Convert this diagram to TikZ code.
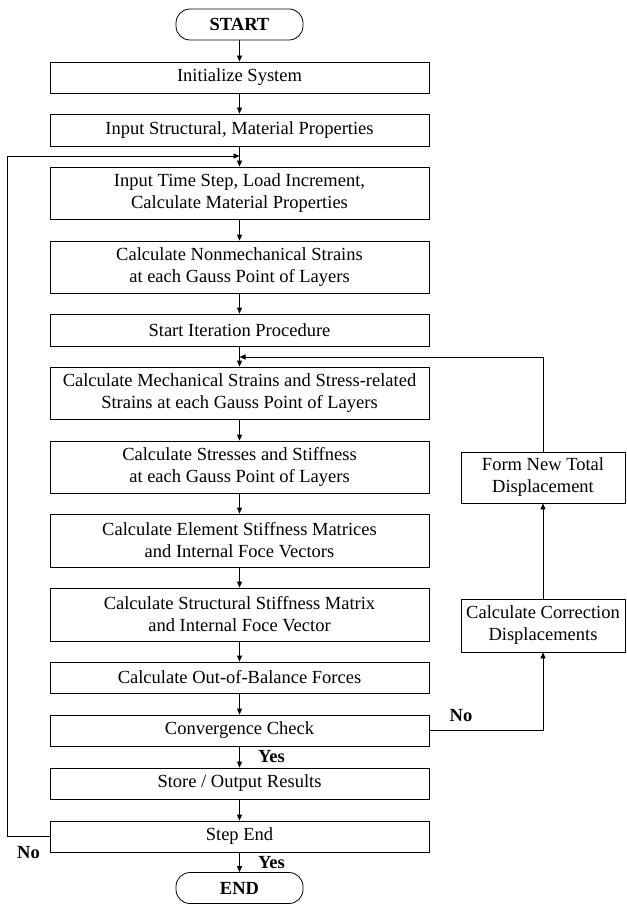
\documentclass[tikz,border=0pt]{standalone}
\usepackage{fontspec}
\setmainfont{Liberation Serif}
\usetikzlibrary{arrows.meta}
\begin{document}
\begin{tikzpicture}[x=1pt,y=-1pt,
  box/.style={draw, line width=0.8pt, minimum width=379pt, align=center, inner sep=0pt, font=\fontsize{18.5}{22}\selectfont},
  sbox/.style={draw, line width=0.8pt, minimum width=164pt, align=center, inner sep=0pt, font=\fontsize{18.5}{22}\selectfont},
  term/.style={draw, line width=0.8pt, rounded corners=14pt, minimum width=127pt, minimum height=31pt, inner sep=0pt, font=\fontsize{18.5}{22}\selectfont\bfseries},
  lbl/.style={inner sep=0pt, font=\fontsize{18.5}{22}\selectfont\bfseries},
  arr/.style={-{Triangle[length=6pt,width=5pt]}, line width=0.8pt}]
\useasboundingbox (0,0) rectangle (626,904);
\node[term] (start) at (239.5,24.5) {START};
\node[box, minimum height=31pt] (init) at (239.5,77.5) {Initialize System};
\node[box, minimum height=32pt] (struct) at (239.5,130) {Input Structural, Material Properties};
\node[box, minimum height=52pt] (time) at (239.5,193) {Input Time Step, Load Increment,\\Calculate Material Properties};
\node[box, minimum height=52pt] (nonmech) at (239.5,267) {Calculate Nonmechanical Strains\\at each Gauss Point of Layers};
\node[box, minimum height=32pt] (iter) at (239.5,330) {Start Iteration Procedure};
\node[box, minimum height=52pt] (mech) at (239.5,393) {Calculate Mechanical Strains and Stress-related\\Strains at each Gauss Point of Layers};
\node[box, minimum height=52pt] (stress) at (239.5,467) {Calculate Stresses and Stiffness\\at each Gauss Point of Layers};
\node[box, minimum height=53pt] (elem) at (239.5,540.5) {Calculate Element Stiffness Matrices\\and Internal Foce Vectors};
\node[box, minimum height=53pt] (structk) at (239.5,614.5) {Calculate Structural Stiffness Matrix\\and Internal Foce Vector};
\node[box, minimum height=31pt] (oob) at (239.5,677.5) {Calculate Out-of-Balance Forces};
\node[box, minimum height=31pt] (conv) at (239.5,730.5) {Convergence Check};
\node[box, minimum height=31pt] (store) at (239.5,783.5) {Store / Output Results};
\node[box, minimum height=31pt] (stepend) at (239.5,836.5) {Step End};
\node[term] (end) at (239.5,888) {END};
\node[sbox, minimum height=51pt] (formnew) at (543,477.5) {Form New Total\\Displacement};
\node[sbox, minimum height=53pt] (corr) at (543,625.5) {Calculate Correction\\Displacements};
\node[lbl] (yes1) at (271.5,757) {Yes};
\node[lbl] (yes2) at (271.5,863) {Yes};
\node[lbl] (no1) at (28.5,853) {No};
\node[lbl] (no2) at (461,716) {No};
\coordinate (lp) at (239.5,156);
\coordinate (lc) at (7,156);
\coordinate (fb) at (239.5,357);
\draw[arr] (start) -- (init);
\draw[arr] (init) -- (struct);
\draw[arr] (struct) -- (time);
\draw[arr] (time) -- (nonmech);
\draw[arr] (nonmech) -- (iter);
\draw[arr] (iter) -- (mech);
\draw[arr] (mech) -- (stress);
\draw[arr] (stress) -- (elem);
\draw[arr] (elem) -- (structk);
\draw[arr] (structk) -- (oob);
\draw[arr] (oob) -- (conv);
\draw[arr] (conv) -- (store);
\draw[arr] (store) -- (stepend);
\draw[arr] (stepend) -- (end);
\draw[arr] (stepend.west) -| (lc) -- (lp);
\draw[arr] (formnew.north) |- (fb);
\draw[arr] (conv.east) -| (corr.south);
\draw[arr] (corr) -- (formnew);
\end{tikzpicture}
\end{document}
